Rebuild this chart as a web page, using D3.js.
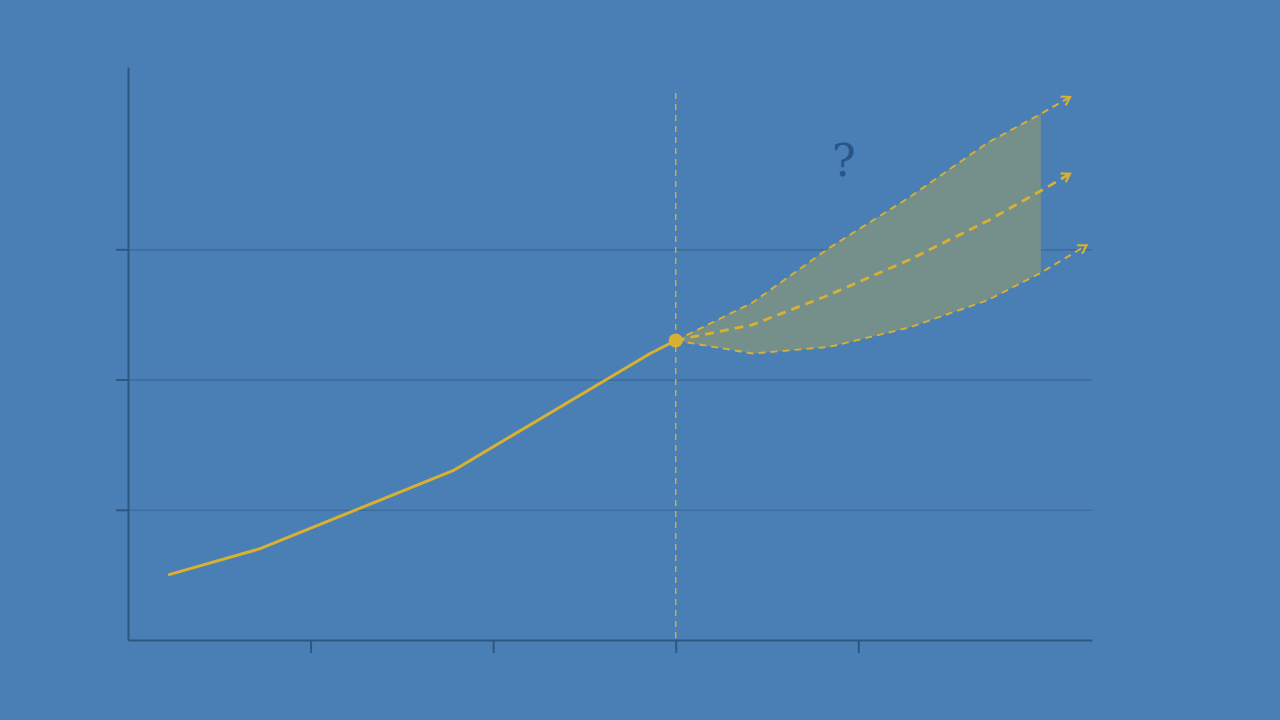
<!DOCTYPE html>
<html>
<head>
<meta charset="utf-8">
<script src="https://cdn.jsdelivr.net/npm/d3@7"></script>
<style>
  html, body { margin: 0; padding: 0; background: #4a7fb5; }
  svg { display: block; }
</style>
</head>
<body>
<svg width="1280" height="720"></svg>
<script>
// history (solid line)
var histX = [0.22, 0.72, 1.78, 2.86, 3.0],
    histY = [0.5, 0.7, 1.3, 2.2, 2.3];

// forecast scenarios, last point is the arrow tip
var foreX = [3.0, 3.42, 3.84, 4.28, 4.71, 5.0],
    upperY = [2.3, 2.59, 3.01, 3.40, 3.82, 4.04],
    middleY = [2.3, 2.42, 2.65, 2.92, 3.22, 3.45],
    lowerY = [2.3, 2.20, 2.25, 2.40, 2.61, 2.82],
    upperTip = [5.16, 4.17],
    middleTip = [5.16, 3.58],
    lowerTip = [5.25, 3.03];

var xTicks = [1, 2, 3, 4],
    yTicks = [1, 2, 3],
    nowX = 3.0,
    label = '?';

var svg = d3.select('svg'),
    margin = { top: 67, right: 188, bottom: 80, left: 128 },
    width = +svg.attr('width') - margin.left - margin.right,
    height = +svg.attr('height') - margin.top - margin.bottom;

var axisColor = '#2d5783',
    gridColor = '#3a6797',
    yellow = '#d8b132';

var x = d3.scaleLinear().domain([0, 5.28]).range([0, width]),
    y = d3.scaleLinear().domain([0, 4.4]).range([height, 0]);

var g = svg.append('g')
    .attr('transform', 'translate(' + margin.left + ',' + margin.top + ')');

// pijlpunt
svg.append('defs').append('marker')
    .attr('id', 'arrow')
    .attr('viewBox', '0 0 12 12')
    .attr('refX', 10).attr('refY', 6)
    .attr('markerWidth', 12).attr('markerHeight', 12)
    .attr('markerUnits', 'userSpaceOnUse')
    .attr('orient', 'auto')
  .append('path')
    .attr('d', 'M2,1 L10,6 L2,11')
    .attr('fill', 'none')
    .attr('stroke', yellow)
    .attr('stroke-width', 2.2);

// gridlines
g.append('g')
    .attr('class', 'grid')
    .call(d3.axisLeft(y).tickValues(yTicks).tickSize(-width).tickFormat(''))
    .call(function(s) { s.select('.domain').remove(); })
    .selectAll('line')
    .attr('stroke', gridColor)
    .attr('stroke-width', 1.2);

// band between upper and lower
var bandData = foreX.map(function(d, i) {
  return { x: d, hi: upperY[i], lo: lowerY[i] };
});
g.append('path')
    .datum(bandData)
    .attr('fill', '#758f8b')
    .attr('d', d3.area()
      .x(function(d) { return x(d.x); })
      .y0(function(d) { return y(d.lo); })
      .y1(function(d) { return y(d.hi); }));

// vertical dashed "now" line
g.append('line')
    .attr('x1', x(nowX)).attr('x2', x(nowX))
    .attr('y1', y(4.2)).attr('y2', y(0))
    .attr('stroke', yellow)
    .attr('stroke-width', 1.4)
    .attr('stroke-dasharray', '6,5');

var line = d3.line()
    .x(function(d) { return x(d[0]); })
    .y(function(d) { return y(d[1]); });

function series(ys, tip) {
  var pts = foreX.map(function(d, i) { return [d, ys[i]]; });
  pts.push(tip);
  return pts;
}

// forecast lines
[
  { pts: series(upperY, upperTip), w: 1.9, dash: '7,5' },
  { pts: series(middleY, middleTip), w: 2.8, dash: '9,6' },
  { pts: series(lowerY, lowerTip), w: 1.9, dash: '7,5' }
].forEach(function(s) {
  g.append('path')
      .datum(s.pts)
      .attr('fill', 'none')
      .attr('stroke', yellow)
      .attr('stroke-width', s.w)
      .attr('stroke-dasharray', s.dash)
      .attr('marker-end', 'url(#arrow)')
      .attr('d', line);
});

// history
g.append('path')
    .datum(histX.map(function(d, i) { return [d, histY[i]]; }))
    .attr('fill', 'none')
    .attr('stroke', yellow)
    .attr('stroke-width', 3)
    .attr('stroke-linejoin', 'round')
    .attr('d', line);

g.append('circle')
    .attr('cx', x(nowX))
    .attr('cy', y(histY[histY.length - 1]))
    .attr('r', 7)
    .attr('fill', yellow);

// axes
g.append('g')
    .attr('class', 'axis axis--x')
    .attr('transform', 'translate(0,' + height + ')')
    .call(d3.axisBottom(x).tickValues(xTicks).tickSize(13).tickSizeOuter(0).tickFormat(''));

g.append('g')
    .attr('class', 'axis axis--y')
    .call(d3.axisLeft(y).tickValues(yTicks).tickSize(12).tickSizeOuter(0).tickFormat(''));

g.selectAll('.axis path, .axis line')
    .attr('stroke', axisColor)
    .attr('stroke-width', 2);

g.append('text')
    .attr('x', x(3.92))
    .attr('y', y(3.56))
    .attr('text-anchor', 'middle')
    .attr('font-family', 'DejaVu Serif, serif')
    .attr('font-size', 44)
    .attr('fill', '#28548a')
    .text(label);
</script>
</body>
</html>
